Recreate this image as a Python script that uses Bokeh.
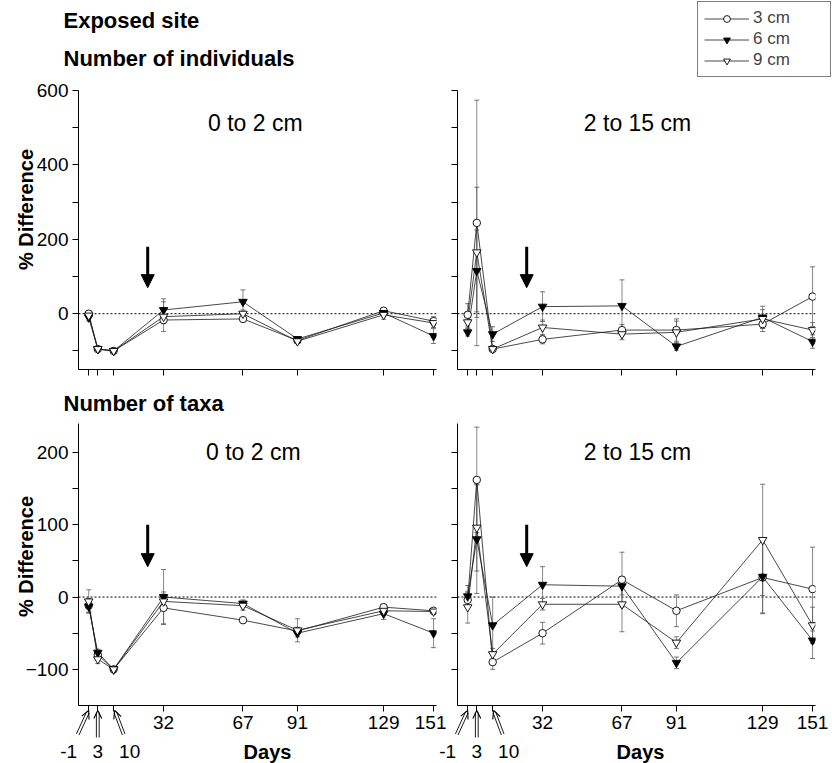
import math
import numpy as np
from bokeh.plotting import figure
from bokeh.layouts import row, column
from bokeh.models import (FixedTicker, Span, Label, Arrow, NormalHead, OpenHead,
                          Legend, LegendItem, Range1d)
from bokeh.embed import file_html
from bokeh.resources import INLINE

# ---------------- data ----------------
days = [-1, 3, 10, 32, 67, 91, 129, 151]
labelled_days = [32, 67, 91, 129, 151]
early_days = [-1, 3, 10]
early_labels = ["-1", "3", "10"]
series_labels = ["3 cm", "6 cm", "9 cm"]
event_day = 25

# Number of individuals, 0 to 2 cm
ind_surf_3cm = [0, -95, -100, -17, -14, -72, 8, -20]
ind_surf_6cm = [-10, -95, -100, 10, 32, -68, 2, -60]
ind_surf_9cm = [-5, -95, -100, -8, 0, -74, -3, -25]
ind_surf_err_3cm = [8, 3, 0, 10, 8, 5, 8, 12]
ind_surf_err_6cm = [10, 3, 0, 30, 32, 5, 10, 20]
ind_surf_err_9cm = [8, 3, 0, 40, 10, 5, 12, 12]

# Number of individuals, 2 to 15 cm
ind_deep_3cm = [-3, 244, -95, -69, -44, -44, -28, 46]
ind_deep_6cm = [-50, 115, -55, 19, 21, -88, -10, -75]
ind_deep_9cm = [-23, 165, -95, -37, -55, -50, -14, -44]
ind_deep_err_3cm = [30, 330, 5, 12, 15, 30, 20, 80]
ind_deep_err_6cm = [10, 110, 20, 40, 70, 10, 30, 18]
ind_deep_err_9cm = [15, 175, 5, 20, 15, 30, 25, 20]

# Number of taxa, 0 to 2 cm
tax_surf_3cm = [-12, -80, -100, -15, -32, -47, -14, -19]
tax_surf_6cm = [-13, -77, -100, 0, -9, -50, -23, -50]
tax_surf_9cm = [-6, -86, -100, -6, -12, -46, -19, -20]
tax_surf_err_3cm = [10, 5, 0, 22, 3, 5, 4, 3]
tax_surf_err_6cm = [8, 5, 0, 38, 5, 5, 8, 20]
tax_surf_err_9cm = [16, 6, 0, 10, 6, 16, 6, 4]

# Number of taxa, 2 to 15 cm
tax_deep_3cm = [-4, 162, -90, -50, 24, -19, 27, 11]
tax_deep_6cm = [1, 80, -39, 17, 15, -91, 28, -60]
tax_deep_9cm = [-14, 96, -79, -10, -10, -63, 79, -39]
tax_deep_err_3cm = [10, 73, 10, 15, 38, 22, 50, 58]
tax_deep_err_6cm = [15, 75, 39, 25, 12, 8, 50, 25]
tax_deep_err_9cm = [22, 60, 8, 8, 38, 8, 77, 25]

ind_major_ticks = [0, 200, 400, 600]
ind_minor_ticks = [-100, 100, 300, 500]
tax_major_ticks = [-100, 0, 100, 200]
tax_minor_ticks = [-50, 50, 150]

# ---------------- layout constants ----------------
FONT = "Liberation Sans"
XS, XE = -5.5, 152.3
FW = 358
IND_Y = (-150, 600)
TAX_Y = (-150, 240)
W, H = 832, 763

MARKER_STYLES = [dict(marker="circle", fill_color="white", size=7.5),
                 dict(marker="inverted_triangle", fill_color="black", size=8.5),
                 dict(marker="inverted_triangle", fill_color="white", size=8.5)]


class Geo:
    def __init__(self, left, top, h, yr):
        self.left, self.top, self.h, self.yr = left, top, h, yr

    def x(self, px):
        return XS + (px - self.left) * (XE - XS) / FW

    def y(self, py):
        y0, y1 = self.yr
        return y1 - (py - self.top) * (y1 - y0) / self.h

    def px(self, d):
        return self.left + (d - XS) * FW / (XE - XS)


def make_fig(width, height, mbl, mbr, mbt, mbb, yr, left_panel, bottom_row, margin):
    p = figure(width=width, height=height, x_range=(XS, XE), y_range=yr,
               output_backend="svg", toolbar_location=None,
               min_border_left=mbl, min_border_right=mbr,
               min_border_top=mbt, min_border_bottom=mbb,
               margin=margin)
    p.grid.visible = False
    p.outline_line_color = None
    p.border_fill_color = None
    p.background_fill_color = None
    for ax in (p.xaxis[0], p.yaxis[0]):
        ax.axis_line_color = "black"
        ax.axis_line_width = 1
        ax.major_tick_out = 6
        ax.major_tick_in = 0
        ax.minor_tick_out = 6
        ax.minor_tick_in = 0
        ax.major_tick_line_color = "black"
        ax.minor_tick_line_color = "black"
        ax.major_label_text_font = FONT
        ax.major_label_text_font_size = "19px"
        ax.major_label_text_color = "black"
        ax.major_label_standoff = 4
    if bottom_row:
        p.xaxis[0].ticker = FixedTicker(ticks=labelled_days, minor_ticks=early_days)
    else:
        p.xaxis[0].ticker = FixedTicker(ticks=[], minor_ticks=days)
    majors, minors = (tax_major_ticks, tax_minor_ticks) if bottom_row else (ind_major_ticks, ind_minor_ticks)
    if left_panel:
        p.yaxis[0].ticker = FixedTicker(ticks=majors, minor_ticks=minors)
    else:
        p.yaxis[0].ticker = FixedTicker(ticks=[], minor_ticks=majors + minors)
    p.add_layout(Span(location=0, dimension="width", line_color="black",
                      line_width=1, line_dash="2 2", level="underlay"))
    return p


def add_series(p, vals_list, errs_list):
    for vals, errs in zip(vals_list, errs_list):
        v = np.array(vals, dtype=float)
        e = np.array(errs, dtype=float)
        p.segment(x0=days, y0=v - e, x1=days, y1=v + e, line_color="#555555", line_width=0.7)
        p.scatter(days, v + e, marker="dash", size=5, line_color="#555555", line_width=0.8)
        p.scatter(days, v - e, marker="dash", size=5, line_color="#555555", line_width=0.8)
    for vals in vals_list:
        p.line(days, vals, line_color="#1a1a1a", line_width=0.8)
    for vals, st in zip(vals_list, MARKER_STYLES):
        p.scatter(days, vals, marker=st["marker"], size=st["size"],
                  fill_color=st["fill_color"], line_color="black", line_width=0.9)


def panel_text(p, g, px, py, text, size):
    p.add_layout(Label(x=g.x(px), y=g.y(py), text=text, text_font=FONT,
                       text_font_size=f"{size}px", text_align="center",
                       text_baseline="middle", text_color="black"))


def add_event_arrow(p, y_start, y_end):
    p.add_layout(Arrow(end=NormalHead(size=13, fill_color="black", line_color="black", line_width=1),
                       x_start=event_day, y_start=y_start, x_end=event_day, y_end=y_end,
                       line_width=3, line_color="black"))


# ---------------- panel figures ----------------
g_tl = Geo(78, 90, 279, IND_Y)
g_tr = Geo(457, 90, 279, IND_Y)
g_bl = Geo(78, 423, 282, TAX_Y)
g_br = Geo(457, 423, 282, TAX_Y)

p_tl = make_fig(446, 385, 78, 10, 90, 16, IND_Y, True, False, (0, 0, 0, 0))
p_tr = make_fig(396, 385, 21, 17, 90, 16, IND_Y, False, False, (0, 0, 0, -10))
p_bl = make_fig(446, 378, 78, 10, 38, 58, TAX_Y, True, True, (0, 0, 0, 0))
p_br = make_fig(396, 378, 21, 17, 38, 58, TAX_Y, False, True, (0, 0, 0, -10))

add_series(p_tl, [ind_surf_3cm, ind_surf_6cm, ind_surf_9cm],
           [ind_surf_err_3cm, ind_surf_err_6cm, ind_surf_err_9cm])
add_series(p_tr, [ind_deep_3cm, ind_deep_6cm, ind_deep_9cm],
           [ind_deep_err_3cm, ind_deep_err_6cm, ind_deep_err_9cm])
add_series(p_bl, [tax_surf_3cm, tax_surf_6cm, tax_surf_9cm],
           [tax_surf_err_3cm, tax_surf_err_6cm, tax_surf_err_9cm])
add_series(p_br, [tax_deep_3cm, tax_deep_6cm, tax_deep_9cm],
           [tax_deep_err_3cm, tax_deep_err_6cm, tax_deep_err_9cm])

panel_text(p_tl, g_tl, 258, 122, "0 to  2 cm", 23)
panel_text(p_tr, g_tr, 637, 122, "2 to 15 cm", 23)
panel_text(p_bl, g_bl, 256, 451, "0 to  2 cm", 23)
panel_text(p_br, g_br, 637, 451, "2 to 15 cm", 23)

add_event_arrow(p_tl, 180, 70)
add_event_arrow(p_tr, 180, 70)
add_event_arrow(p_bl, 100, 42)
add_event_arrow(p_br, 100, 42)

# ---------------- overlay for texts outside the panels (page pixel coords) ----------------
ov = figure(width=W, height=H, x_range=Range1d(0, W), y_range=Range1d(H, 0),
            output_backend="svg", toolbar_location=None, title=None,
            x_axis_location=None, y_axis_location=None,
            min_border_left=0, min_border_right=0, min_border_top=0, min_border_bottom=0,
            margin=(-H, 0, 0, 0))
ov.grid.visible = False
ov.outline_line_color = None
ov.border_fill_color = None
ov.background_fill_color = None


def ov_text(x, y, text, size, bold=False, align="left", angle=0.0):
    ov.add_layout(Label(x=x, y=y, text=text, text_font=FONT,
                        text_font_size=f"{size}px",
                        text_font_style="bold" if bold else "normal",
                        text_align=align, text_baseline="middle", angle=angle,
                        text_color="black"))


ov_text(63, 20, "Exposed site", 22, bold=True)
ov_text(63, 58, "Number of individuals", 22, bold=True)
ov_text(63, 403, "Number of  taxa", 22, bold=True)
ov_text(25, 209, "% Difference", 20, bold=True, align="center", angle=math.pi / 2)
ov_text(25, 556, "% Difference", 20, bold=True, align="center", angle=math.pi / 2)
ov_text(267, 751, "Days", 20, bold=True, align="center")
ov_text(640, 751, "Days", 20, bold=True, align="center")


def day_pointers(g):
    specs = [(-11, 734, 0, 710, -20), (0, 737, 0, 710, 0), (10, 734, 1, 710, 16)]
    for d, lab, (dxs, ys, dxe, ye, dl) in zip(early_days, early_labels, specs):
        t = g.px(d)
        sx, sy, ex, ey = t + dxs, ys, t + dxe, ye
        L = math.hypot(ex - sx, ey - sy)
        ux, uy = (ex - sx) / L, (ey - sy) / L
        nx, ny = -uy, ux
        for s in (-1.4, 1.4):
            ov.add_layout(Arrow(end=None,
                                x_start=sx + nx * s, y_start=sy + ny * s,
                                x_end=ex - ux * 2 + nx * s, y_end=ey - uy * 2 + ny * s,
                                line_color="black", line_width=0.9))
        ov.add_layout(Arrow(end=OpenHead(size=8, line_width=1.1, line_color="black"),
                            x_start=sx, y_start=sy, x_end=ex, y_end=ey, line_alpha=0))
        ov_text(t + dl, 751, lab, 19, align="center")


day_pointers(g_bl)
day_pointers(g_br)

# legend: legend-only renderers (a single missing value, so nothing is plotted)
leg_items = []
for lab, st in zip(series_labels, MARKER_STYLES):
    lr = ov.line(x=np.array([np.nan]), y=np.array([np.nan]), line_color="#1a1a1a", line_width=0.8)
    mr = ov.scatter(x=np.array([np.nan]), y=np.array([np.nan]), marker=st["marker"], size=st["size"],
                    fill_color=st["fill_color"], line_color="black", line_width=0.9)
    leg_items.append(LegendItem(label=lab, renderers=[lr, mr]))
legend = Legend(items=leg_items, location=(697, H - 77),
                border_line_color="black", border_line_width=1,
                background_fill_color="white", background_fill_alpha=1.0,
                label_text_font=FONT, label_text_font_size="17px",
                glyph_width=45, glyph_height=17, label_height=17, spacing=1,
                padding=6, label_standoff=4, label_width=71, margin=0)
ov.add_layout(legend)

layout = column(row(p_tl, p_tr), row(p_bl, p_br), ov)
open("out.html", "w").write(file_html(layout, INLINE))
